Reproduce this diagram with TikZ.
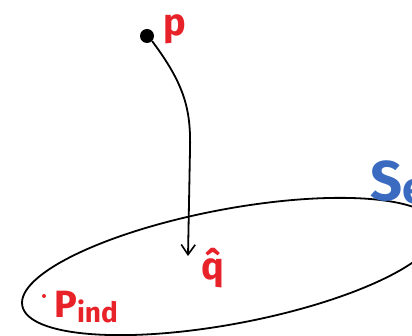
\documentclass[tikz,border=0pt]{standalone}
\usepackage{fontspec}
\setmainfont{Fira Sans}
\usetikzlibrary{arrows.meta}
\definecolor{hred}{HTML}{E82229}
\definecolor{hblue}{HTML}{3A6BC0}
\tikzset{
  redlbl/.style={text=hred, font=\bfseries\fontsize{38}{38}\selectfont, inner sep=0pt},
  bluelbl/.style={text=hblue, font=\bfseries\fontsize{56}{56}\selectfont, inner sep=0pt},
  pen/.style={line width=1.8pt, black}
}
\begin{document}
\begin{tikzpicture}[x=1pt,y=-1pt]
\useasboundingbox (0,0) rectangle (412,336);
\clip (0,0) rectangle (412,336);
% set ellipse
\draw[pen] (230,266.5) ellipse[x radius=211.4, y radius=57.3, rotate=10.7];
% point p
\node[circle, fill=black, minimum size=14pt, inner sep=0pt] (p) at (147,36) {};
\coordinate (qtip) at (188,256);
\draw[pen, -{Straight Barb[length=10pt,width=14pt,line width=1.6pt]}]
  (p.south east) .. controls (185,85) and (191,110) .. (190,150)
  -- (qtip);
% labels
\node[redlbl, anchor=base west] (plbl) at (163,36) {p};
\node[redlbl, anchor=base west] (qlbl) at (201,280) {\^{q}};
\node[circle, fill=hred, minimum size=4pt, inner sep=0pt] (dot) at (44,296) {};
\node[redlbl, anchor=base west] (pind) at (54,318) {P\raisebox{-5pt}{\fontsize{28}{28}\selectfont ind}};
\node[bluelbl, anchor=base west] (se) at (370,201) {S\raisebox{-3pt}{\fontsize{44}{44}\selectfont e}};
\end{tikzpicture}
\end{document}
